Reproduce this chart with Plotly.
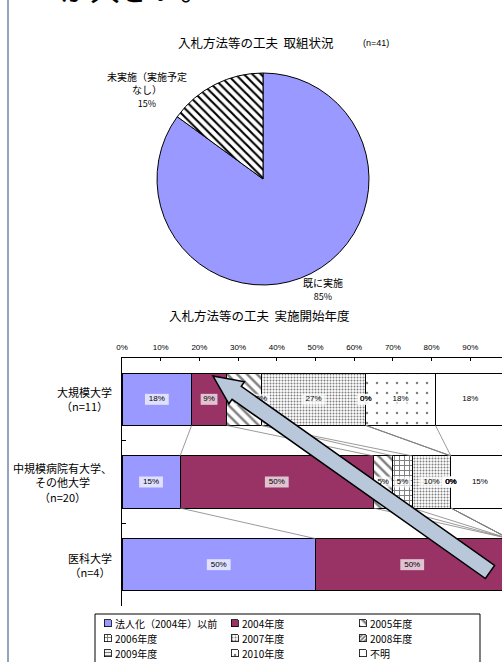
import plotly.graph_objects as go

W, H = 502, 662

# ---------------- data ----------------
pie_labels = ["既に実施", "未実施（実施予定なし）"]
pie_label_lines = ["既に実施", "未実施（実施予定<br>なし）"]
pie_values = [85, 15]

categories = ["大規模大学", "中規模病院有大学、<br>その他大学", "医科大学"]
n_counts = [11, 20, 4]

series_names = ["法人化（2004年）以前", "2004年度", "2005年度", "2006年度", "2007年度",
                "2008年度", "2009年度", "2010年度", "不明"]
# values (%) per series for [大規模, 中規模, 医科]
v_pre2004 = [18, 15, 50]
v_2004 = [9, 50, 50]
v_2005 = [9, 5, 0]
v_2006 = [0, 5, 0]
v_2007 = [27, 10, 0]
v_2008 = [0, 0, 0]
v_2009 = [0, 0, 0]
v_2010 = [18, 0, 0]
v_unknown = [18, 15, 0]
series_values = [v_pre2004, v_2004, v_2005, v_2006, v_2007, v_2008, v_2009, v_2010, v_unknown]

x_tick_vals = [0, 10, 20, 30, 40, 50, 60, 70, 80, 90, 100]
x_tick_text = [f"{v}%" for v in x_tick_vals]

# ---------------- styles ----------------
JP = "Noto Sans CJK JP, sans-serif"
series_style = [
    dict(color="#9999FF"),
    dict(color="#993366"),
    dict(color="white", pattern=dict(shape="\\", fgcolor="black", bgcolor="white", size=7, solidity=0.35)),
    dict(color="white", pattern=dict(shape="+", fgcolor="black", bgcolor="white", size=5, solidity=0.35)),
    dict(color="white", pattern=dict(shape=".", fgcolor="black", bgcolor="white", size=3, solidity=0.35)),
    dict(color="white", pattern=dict(shape="/", fgcolor="black", bgcolor="white", size=3, solidity=0.6)),
    dict(color="white", pattern=dict(shape="-", fgcolor="black", bgcolor="white", size=3, solidity=0.4)),
    dict(color="white", pattern=dict(shape=".", fgcolor="black", bgcolor="white", size=10, solidity=0.05)),
    dict(color="white"),
]


def px(x):
    return x / W


def py(y):
    return 1 - y / H


def make_marker(st, lw=1):
    m = dict(color=st["color"], line=dict(color="black", width=lw))
    if "pattern" in st:
        m["pattern"] = st["pattern"]
    return m


fig = go.Figure()

# ---------------- pie ----------------
fig.add_trace(go.Pie(
    labels=pie_labels, values=pie_values, sort=False, direction="clockwise", rotation=0,
    textinfo="none", hoverinfo="skip", showlegend=False,
    marker=dict(colors=["#9999FF", "white"],
                pattern=dict(shape=["", "\\"], fgcolor="black", bgcolor="white", size=6, solidity=0.35),
                line=dict(color="black", width=1)),
    domain=dict(x=[px(157), px(369)], y=[py(285), py(73)]),
))

# ---------------- stacked bars ----------------
ypos = list(range(len(categories)))
BW = 0.63
for name, vals, st in zip(series_names, series_values, series_style):
    fig.add_trace(go.Bar(
        x=[v / 100 for v in vals], y=ypos, name=name, orientation="h", width=BW,
        marker=make_marker(st), hoverinfo="skip", xaxis="x", yaxis="y", showlegend=False,
    ))

# cumulative boundaries
cums = []
for ci in range(len(categories)):
    c, row = 0, []
    for vals in series_values:
        c += vals[ci]
        row.append(c)
    cums.append(row)

# series lines between bars
sx, sy = [], []
for ci in range(len(categories) - 1):
    for k in range(len(series_values)):
        sx += [cums[ci][k] / 100, cums[ci + 1][k] / 100, None]
        sy += [ci + BW / 2, ci + 1 - BW / 2, None]
fig.add_trace(go.Scatter(x=sx, y=sy, mode="lines", line=dict(color="#808080", width=0.8),
                         showlegend=False, hoverinfo="skip", xaxis="x", yaxis="y"))

# data labels with white boxes
lx, ly, lt, ls = [], [], [], []
for ci in range(len(categories)):
    start = 0
    for vals in series_values:
        v = vals[ci]
        if start + v / 2 < 98:
            lx.append((start + v / 2) / 100)
            ly.append(ci)
            t = f"{v}%"
            lt.append(t)
            ls.append(5 * len(t) + 2)
        start += v
fig.add_trace(go.Scatter(
    x=lx, y=ly, text=lt, mode="markers+text", textposition="middle center",
    textfont=dict(size=8, color="black", family="Arial"),
    marker=dict(symbol="line-ew", size=ls, line=dict(color="white", width=11), color="white"),
    showlegend=False, hoverinfo="skip", xaxis="x", yaxis="y", cliponaxis=False,
))

# ---------------- custom legend (pixel-space overlay axes) ----------------
LEG_COLS = [104, 231, 359]
LEG_ROWS = [623, 638, 653]
ICON = 7
for i, (name, st) in enumerate(zip(series_names, series_style)):
    cx = LEG_COLS[i % 3]
    cy = LEG_ROWS[i // 3]
    fig.add_trace(go.Bar(
        x=[ICON], y=[cy], base=[cx], width=[ICON], orientation="h",
        marker=make_marker(st, lw=0.8), xaxis="x2", yaxis="y2",
        showlegend=False, hoverinfo="skip",
    ))

# ---------------- layout ----------------
fig.update_layout(
    width=W, height=H, autosize=False,
    margin=dict(l=0, r=0, t=0, b=0, autoexpand=False),
    paper_bgcolor="white", plot_bgcolor="rgba(0,0,0,0)",
    barmode="stack", showlegend=False,
    font=dict(family=JP, color="black"),
    xaxis=dict(domain=[px(122), 1], range=[0, 0.982], side="top", anchor="y",
               tickvals=[v / 100 for v in x_tick_vals], ticktext=x_tick_text,
               tickfont=dict(size=8, family="Arial"), ticks="inside", ticklen=3,
               tickcolor="black", showline=True, linecolor="black", linewidth=1,
               showgrid=False, zeroline=False, ticklabelstandoff=4, fixedrange=True),
    yaxis=dict(domain=[py(606), py(358)], range=[2.5, -0.5], anchor="x",
               tickvals=[0.5, 1.5, 2.5], showticklabels=False, ticks="inside", ticklen=4,
               tickcolor="black", showline=True, linecolor="black", linewidth=1,
               showgrid=False, zeroline=False, fixedrange=True),
    xaxis2=dict(domain=[0, 1], range=[0, W], visible=False, anchor="y2", fixedrange=True),
    yaxis2=dict(domain=[0, 1], range=[H, 0], visible=False, anchor="x2", fixedrange=True),
)

ann = []
# category labels
for ci, (cat, n) in enumerate(zip(categories, n_counts)):
    ann.append(dict(x=px(114), y=ci, xref="paper", yref="y", xanchor="right", yanchor="middle",
                    align="center", showarrow=False,
                    text=f"{cat}<br>（n={n}）", font=dict(size=11, family=JP)))
# titles
ann.append(dict(x=px(256), y=py(43), xref="paper", yref="paper", xanchor="center", yanchor="middle",
                showarrow=False, text="入札方法等の工夫  取組状況", font=dict(size=12.5, family=JP)))
ann.append(dict(x=px(376), y=py(43), xref="paper", yref="paper", xanchor="center", yanchor="middle",
                showarrow=False, text="(n=41)", font=dict(size=9, family="Arial")))
ann.append(dict(x=px(259), y=py(315), xref="paper", yref="paper", xanchor="center", yanchor="middle",
                showarrow=False, text="入札方法等の工夫  実施開始年度", font=dict(size=12.5, family=JP)))
# pie labels
ann.append(dict(x=px(147), y=py(89), xref="paper", yref="paper", xanchor="center", yanchor="middle",
                showarrow=False, align="center",
                text=f"{pie_label_lines[1]}<br><span style='font-size:9px'>{pie_values[1]}%</span>",
                font=dict(size=10, family=JP)))
ann.append(dict(x=px(323), y=py(289), xref="paper", yref="paper", xanchor="center", yanchor="middle",
                showarrow=False, align="center",
                text=f"{pie_label_lines[0]}<br><span style='font-size:9px'>{pie_values[0]}%</span>",
                font=dict(size=10, family=JP)))
# legend texts
for i, name in enumerate(series_names):
    ann.append(dict(x=LEG_COLS[i % 3] + ICON + 2, y=LEG_ROWS[i // 3], xref="x2", yref="y2",
                    xanchor="left", yanchor="middle", showarrow=False, text=name,
                    font=dict(size=10, family=JP)))
# cut-off heading text at top
ann.append(dict(x=px(58), y=py(-13), xref="paper", yref="paper", xanchor="left", yanchor="middle",
                showarrow=False, text="が大きい。", font=dict(size=30, family=JP)))
fig.update_layout(annotations=ann)

# arrow shape (pixel geometry)
arrow_pts = [(213, 376), (244.5, 381.8), (241.3, 386.3), (494.6, 565.5), (485.4, 578.5),
             (232.1, 399.3), (228.9, 403.8)]
path = "M " + " L ".join(f"{px(x):.5f},{py(y):.5f}" for x, y in arrow_pts) + " Z"
shapes = [
    dict(type="rect", x0=px(95), x1=px(480), y0=py(614), y1=py(670), xref="paper", yref="paper",
         line=dict(color="black", width=1), fillcolor="rgba(0,0,0,0)", layer="below"),
    dict(type="path", path=path, xref="paper", yref="paper", fillcolor="#B8C7DA",
         line=dict(color="black", width=1.5), layer="above"),
    dict(type="line", x0=px(8), x1=px(8), y0=0, y1=1, xref="paper", yref="paper",
         line=dict(color="#6F86A8", width=1.5), layer="above"),
]
fig.update_layout(shapes=shapes)

fig.write_html("out.html")
